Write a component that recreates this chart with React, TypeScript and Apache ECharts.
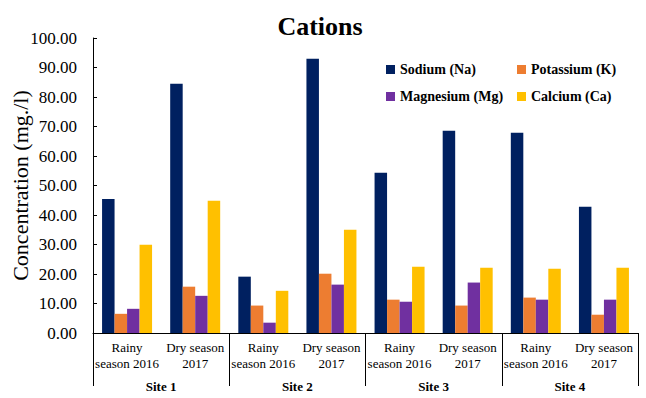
import React, { useEffect, useRef } from "react";
import * as echarts from "echarts";

const categories = [
  "Rainy\nseason 2016",
  "Dry season\n2017",
  "Rainy\nseason 2016",
  "Dry season\n2017",
  "Rainy\nseason 2016",
  "Dry season\n2017",
  "Rainy\nseason 2016",
  "Dry season\n2017",
];
const sites = ["Site 1", "Site 2", "Site 3", "Site 4"];
const sodium = [45.4, 84.5, 19.1, 93.0, 54.3, 68.6, 67.9, 42.8];
const potassium = [6.5, 15.7, 9.3, 20.1, 11.3, 9.3, 12.0, 6.2];
const magnesium = [8.2, 12.6, 3.5, 16.4, 10.6, 17.1, 11.3, 11.3];
const calcium = [29.9, 44.8, 14.3, 35.0, 22.5, 22.1, 21.8, 22.1];

const FONT = "Liberation Serif";

export default function App() {
  const ref = useRef<HTMLDivElement>(null);
  useEffect(() => {
    if (!ref.current) return;
    const chart = echarts.init(ref.current, null, { renderer: "svg" });
    const legendText = { fontFamily: FONT, fontWeight: "bold", fontSize: 14, color: "#000", lineHeight: 16 };
    const mk = (name: string, data: number[], color: string) => ({
      name,
      type: "bar",
      data,
      barWidth: 12.5,
      barGap: "0%",
      itemStyle: { color },
      xAxisIndex: 0,
    });
    chart.setOption({
      animation: false,
      backgroundColor: "#fff",
      textStyle: { fontFamily: FONT },
      title: {
        text: "Cations",
        left: 320,
        textAlign: "center",
        top: 13,
        padding: 0,
        textStyle: { fontFamily: FONT, fontWeight: "bold", fontSize: 26, color: "#000" },
      },
      legend: [
        {
          orient: "vertical",
          left: 386,
          top: 61.5,
          padding: 0,
          itemWidth: 9,
          itemHeight: 9,
          itemGap: 11,
          icon: "rect",
          data: ["Sodium (Na)", "Magnesium (Mg)"],
          textStyle: legendText,
        },
        {
          orient: "vertical",
          left: 517,
          top: 61.5,
          padding: 0,
          itemWidth: 9,
          itemHeight: 9,
          itemGap: 11,
          icon: "rect",
          data: ["Potassium (K)", "Calcium (Ca)"],
          textStyle: legendText,
        },
      ],
      grid: { left: 93, right: 8, top: 38, bottom: 65, containLabel: false, outerBoundsMode: "none" },
      xAxis: [
        {
          type: "category",
          data: categories,
          position: "bottom",
          axisLine: { show: true, lineStyle: { color: "#000", width: 1 } },
          axisTick: { show: false },
          axisLabel: {
            interval: 0,
            margin: 7,
            fontFamily: FONT,
            fontSize: 13,
            lineHeight: 15.5,
            color: "#000",
          },
        },
        {
          type: "category",
          data: sites,
          position: "bottom",
          axisLine: { show: false },
          axisTick: { show: true, length: 53, interval: 0, lineStyle: { color: "#000", width: 1 } },
          axisLabel: {
            interval: 0,
            margin: 47,
            fontFamily: FONT,
            fontWeight: "bold",
            fontSize: 13,
            color: "#000",
          },
        },
      ],
      yAxis: {
        type: "value",
        min: 0,
        max: 100,
        interval: 10,
        name: "Concentration (mg./l)",
        nameLocation: "middle",
        nameGap: 62,
        nameMoveOverlap: false,
        nameTextStyle: { fontFamily: FONT, fontSize: 22, color: "#000" },
        axisLine: { show: true, lineStyle: { color: "#000", width: 1 } },
        axisTick: { show: true, inside: true, length: 4, lineStyle: { color: "#000" } },
        splitLine: { show: false },
        axisLabel: {
          margin: 16,
          fontFamily: FONT,
          fontSize: 17,
          color: "#000",
          formatter: (v: number) => v.toFixed(2),
        },
      },
      series: [
        mk("Sodium (Na)", sodium, "#002060"),
        mk("Potassium (K)", potassium, "#ED7D31"),
        mk("Magnesium (Mg)", magnesium, "#7030A0"),
        mk("Calcium (Ca)", calcium, "#FFC000"),
      ],
    });
    return () => chart.dispose();
  }, []);
  return (
    <div
      ref={ref}
      style={{ position: "fixed", left: 0, top: 0, width: 646, height: 398, background: "#fff" }}
    />
  );
}
